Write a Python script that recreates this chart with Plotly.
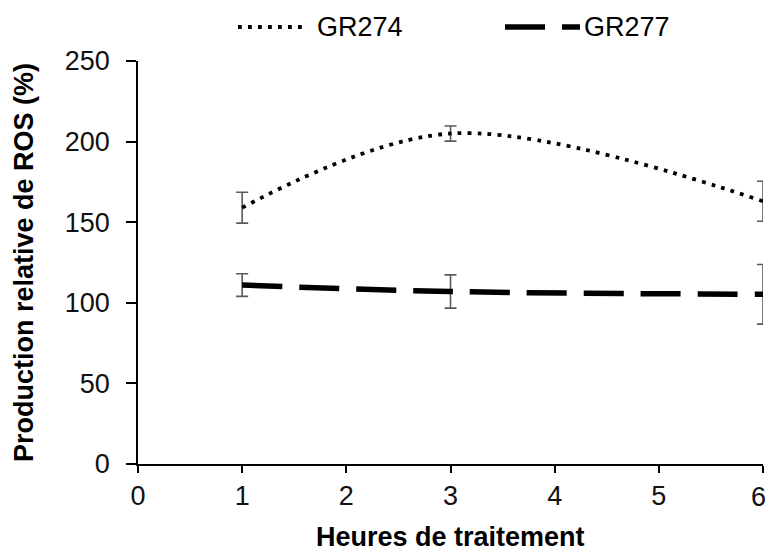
import plotly.graph_objects as go

# Hours of treatment and relative ROS production (%) for the two lines
hours = [1, 3, 6]
gr274 = [159, 205, 163]
gr274_err = [9.6, 4.7, 12.4]
gr277 = [111, 107, 105.3]
gr277_err = [7.0, 10.3, 18.5]

series_names = ["GR274", "GR277"]
x_ticks = [0, 1, 2, 3, 4, 5, 6]
y_ticks = [0, 50, 100, 150, 200, 250]
x_title = "Heures de traitement"
y_title = "Production relative de ROS (%)"

FONT = "Liberation Sans, Arial, sans-serif"
ERR_COLOR = "#5a5a5a"

fig = go.Figure()

fig.add_trace(go.Scatter(
    x=hours, y=gr274, name=series_names[0], mode="lines",
    line=dict(color="black", width=3.8, dash="3.8px,6.2px", shape="spline", smoothing=1),
    error_y=dict(type="data", array=gr274_err, visible=True,
                 color=ERR_COLOR, thickness=1.6, width=6),
    cliponaxis=False, showlegend=False,
))
fig.add_trace(go.Scatter(
    x=hours, y=gr277, name=series_names[1], mode="lines",
    line=dict(color="black", width=5.5, dash="40px,17px", shape="spline", smoothing=1),
    error_y=dict(type="data", array=gr277_err, visible=True,
                 color=ERR_COLOR, thickness=1.6, width=6),
    cliponaxis=False, showlegend=False,
))

L, R, T, B = 138, 6, 61, 89
W, H = 769, 553
pw, ph = W - L - R, H - T - B


def px_x(p):
    return (p - L) / pw


def px_y(p):
    return (H - B - p) / ph


# Legend drawn above the plot area: line sample followed by its label
legend_y = 27
legend_items = [
    (series_names[0], 238, 306, dict(color="black", width=3.8, dash="3.8px,6.2px"), 315),
    (series_names[1], 505, 580, dict(color="black", width=5.5, dash="40px,17px"), 582),
]
for name, x0, x1, ln, tx in legend_items:
    fig.add_shape(type="line", xref="paper", yref="paper",
                  x0=px_x(x0), x1=px_x(x1), y0=px_y(legend_y), y1=px_y(legend_y),
                  line=ln)
    fig.add_annotation(text=name, xref="paper", yref="paper",
                       x=px_x(tx), y=px_y(legend_y), xanchor="left", yanchor="middle",
                       showarrow=False, font=dict(family=FONT, size=27, color="black"))

tick_font = dict(family=FONT, size=27, color="#111")

# The last x tick label sits at the right edge, so it is right-aligned to stay whole
x_labels = [str(v) for v in x_ticks[:-1]] + [""]
fig.add_annotation(text=str(x_ticks[-1]), xref="paper", yref="paper",
                   x=px_x(W - 1), y=px_y(497), xanchor="right", yanchor="middle",
                   showarrow=False, font=tick_font)

# Axis title below the x tick labels
fig.add_annotation(text=f"<b>{x_title}</b>", xref="paper", yref="paper",
                   x=0.5, y=px_y(536.5), xanchor="center", yanchor="middle",
                   showarrow=False, font=dict(family=FONT, size=27, color="black"))

axis_common = dict(
    showline=True, linecolor="black", linewidth=1.5,
    ticks="outside", tickwidth=1.5, tickcolor="black",
    showgrid=False, zeroline=False, ticklabeloverflow="allow",
    tickfont=tick_font,
)

fig.update_layout(
    width=W, height=H,
    margin=dict(l=L, r=R, t=T, b=B, autoexpand=False),
    paper_bgcolor="white", plot_bgcolor="white",
    xaxis=dict(range=[0, 6], tickvals=x_ticks, ticktext=x_labels, ticklen=7,
               ticklabelstandoff=0, automargin=False, **axis_common),
    yaxis=dict(range=[0, 250], tickvals=y_ticks, ticklen=10, ticklabelstandoff=11,
               automargin=False,
               title=dict(text=f"<b>{y_title}</b>", standoff=23,
                          font=dict(family=FONT, size=27, color="black")),
               **axis_common),
)

fig.write_html("out.html")
